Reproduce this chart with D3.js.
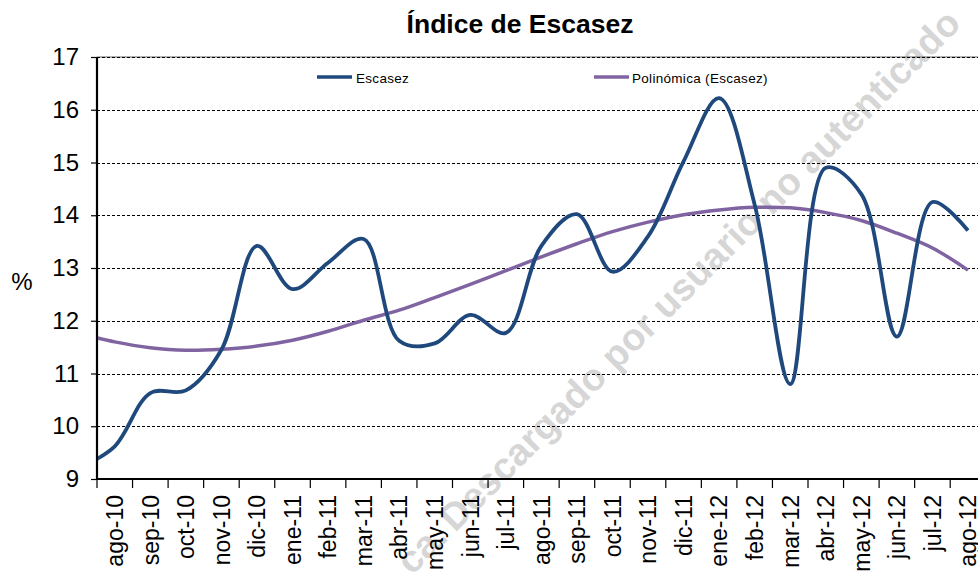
<!DOCTYPE html>
<html>
<head>
<meta charset="utf-8">
<script src="https://cdn.jsdelivr.net/npm/d3@7"></script>
<style>
  html, body { margin: 0; padding: 0; background: #fff; }
  svg { display: block; font-family: "Liberation Sans", Arial, sans-serif; }
</style>
</head>
<body>
<svg id="chart" width="978" height="573"></svg>
<script>
// ---- data ----
const categories = ["ago-10","sep-10","oct-10","nov-10","dic-10","ene-11","feb-11","mar-11","abr-11","may-11","jun-11","jul-11",
                    "ago-11","sep-11","oct-11","nov-11","dic-11","ene-12","feb-12","mar-12","abr-12","may-12","jun-12","jul-12","ago-12"];
const escasez = [9.62, 10.63, 10.68, 11.45, 13.42, 12.6, 13.1, 13.55, 11.62, 11.57, 12.11, 11.77,
                 13.42, 14.02, 12.93, 13.6, 15.02, 16.22, 14.2, 10.8, 14.9, 14.4, 11.7, 14.25, 13.71];
// value of the month before the first label (its point lies left of the axis, only its segment shows)
const escasezLead = 9.2;
const tendencia = [11.6, 11.49, 11.44, 11.46, 11.52, 11.63, 11.8, 12.01, 12.2, 12.44, 12.69, 12.95,
                   13.21, 13.46, 13.69, 13.87, 14.01, 14.1, 14.15, 14.14, 14.05, 13.9, 13.66, 13.38, 12.96];
const tendenciaLead = 11.76;
const yTicks = [9, 10, 11, 12, 13, 14, 15, 16, 17];
const title = "Índice de Escasez";
const seriesNames = ["Escasez", "Polinómica (Escasez)"];
const watermarkPre = "ca. ";
const watermark = "Descargado por usuario no autenticado";

// ---- layout ----
const svg = d3.select("#chart");
const plotLeft = 97, plotTop = 57, plotBottom = 479;
const step = 35.55;
const plotRight = plotLeft + categories.length * step;
const blue = "#1F497D", purple = "#8064A2";

const x = d3.scaleBand().domain(categories).range([plotLeft, plotRight]).paddingInner(0).paddingOuter(0);
const y = d3.scaleLinear().domain([9, 17]).range([plotBottom, plotTop]);
const cx = c => x(c) + x.bandwidth() / 2;

// watermark (behind the data)
const wm = svg.append("g").attr("transform", "translate(455,533) rotate(-45)")
  .attr("fill", "#d6d6d6").attr("font-weight", "bold").attr("font-size", 38);
wm.append("text").attr("text-anchor", "start").text(watermark);
wm.append("text").attr("text-anchor", "end").attr("x", -8).text(watermarkPre);

// grid lines
svg.append("line").attr("x1", plotLeft).attr("x2", 978).attr("y1", y(17)).attr("y2", y(17))
  .attr("stroke", "#666").attr("stroke-width", 1);
svg.append("g").selectAll("line").data(yTicks.filter(v => v > 9)).join("line")
  .attr("x1", plotLeft).attr("x2", 978)
  .attr("y1", d => Math.round(y(d)) + 0.5).attr("y2", d => Math.round(y(d)) + 0.5)
  .attr("stroke", "#000").attr("stroke-width", 1).attr("stroke-dasharray", "3,2");

// y axis
const yAxis = svg.append("g").attr("transform", `translate(${plotLeft},0)`)
  .call(d3.axisLeft(y).tickValues(yTicks).tickSize(6).tickPadding(12).tickFormat(d3.format("d")));
yAxis.select(".domain").remove();
yAxis.selectAll(".tick line").attr("stroke", "#000").attr("stroke-width", 1.2);
yAxis.selectAll("text").attr("font-size", 24).attr("fill", "#000")
  .attr("font-family", "Liberation Sans, Arial, sans-serif");
svg.append("line").attr("x1", plotLeft).attr("x2", plotLeft).attr("y1", plotTop).attr("y2", plotBottom + 1)
  .attr("stroke", "#000").attr("stroke-width", 2.2);

// x axis
svg.append("line").attr("x1", plotLeft - 1).attr("x2", 978).attr("y1", plotBottom).attr("y2", plotBottom)
  .attr("stroke", "#000").attr("stroke-width", 2.2);
svg.append("g").selectAll("line").data(categories).join("line")
  .attr("x1", d => x(d)).attr("x2", d => x(d))
  .attr("y1", plotBottom).attr("y2", plotBottom + 9)
  .attr("stroke", "#000").attr("stroke-width", 1.2);
svg.append("g").selectAll("text").data(categories).join("text")
  .attr("transform", d => `translate(${cx(d)},${plotBottom + 16}) rotate(-90)`)
  .attr("text-anchor", "end").attr("dy", "0.36em")
  .attr("font-size", 23).attr("fill", "#000")
  .text(d => d);

// "%" label
svg.append("text").attr("x", 22).attr("y", 282).attr("dy", "0.35em")
  .attr("text-anchor", "middle").attr("font-size", 24).text("%");

// title
svg.append("text").attr("x", 520).attr("y", 33).attr("text-anchor", "middle")
  .attr("font-size", 26.5).attr("font-weight", "bold").text(title);

// clip for lines
svg.append("clipPath").attr("id", "plotclip").append("rect")
  .attr("x", plotLeft + 1).attr("y", 0).attr("width", plotRight - plotLeft).attr("height", 573);

const leadX = cx(categories[0]) - x.bandwidth();
const line = d3.line().x(d => d[0]).y(d => y(d[1])).curve(d3.curveCatmullRom.alpha(0.5));

const escPts = [[leadX, escasezLead]].concat(categories.map((c, i) => [cx(c), escasez[i]]));
const trPts = [[leadX, tendenciaLead]].concat(categories.map((c, i) => [cx(c), tendencia[i]]));

const plot = svg.append("g").attr("clip-path", "url(#plotclip)");
plot.append("path").attr("d", line(trPts)).attr("fill", "none")
  .attr("stroke", purple).attr("stroke-width", 3.5);
plot.append("path").attr("d", line(escPts)).attr("fill", "none")
  .attr("stroke", blue).attr("stroke-width", 3.8).attr("stroke-linejoin", "round");

// legend
const legendItems = [
  { name: seriesNames[0], color: blue, x0: 317, tx: 356 },
  { name: seriesNames[1], color: purple, x0: 594, tx: 632 }
];
const lg = svg.append("g");
lg.selectAll("line").data(legendItems).join("line")
  .attr("x1", d => d.x0).attr("x2", d => d.x0 + 35).attr("y1", 77).attr("y2", 77)
  .attr("stroke", d => d.color).attr("stroke-width", 3.5);
lg.selectAll("text").data(legendItems).join("text")
  .attr("x", d => d.tx).attr("y", 83)
  .attr("font-size", 13.5).attr("letter-spacing", 0.3).attr("fill", "#000")
  .text(d => d.name);
</script>
</body>
</html>
